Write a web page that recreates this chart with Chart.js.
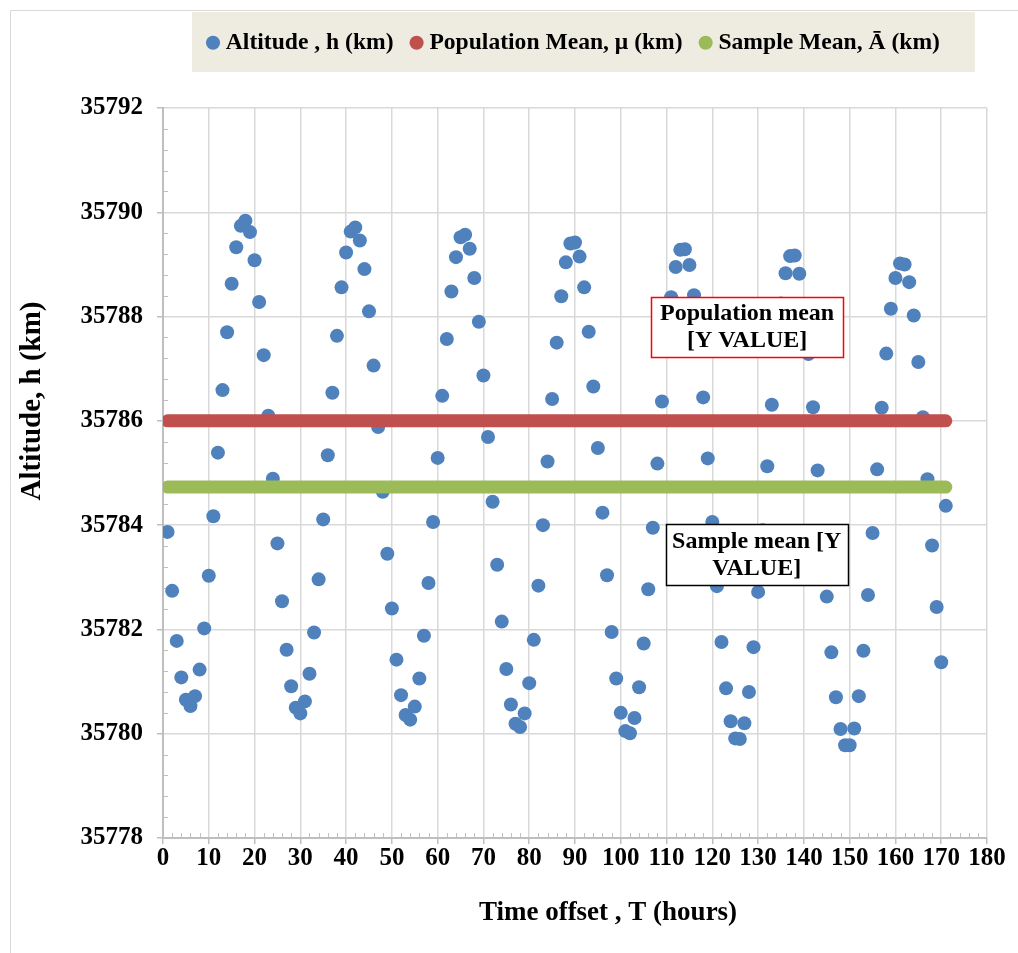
<!DOCTYPE html>
<html>
<head>
<meta charset="utf-8">
<script src="https://cdn.jsdelivr.net/npm/chart.js@4.4.1/dist/chart.umd.min.js"></script>
<style>
  html, body { margin: 0; padding: 0; background: #ffffff; }
  #wrap { position: relative; width: 1018px; height: 953px; overflow: hidden; }
  canvas { display: block; }
</style>
</head>
<body>
<div id="wrap"><canvas id="chart" width="1018" height="953"></canvas></div>
<script>
// Hourly time offsets of the altitude samples (hours)
const hours = [
  1, 2, 3, 4, 5, 6, 7, 8, 9, 10, 11, 12, 13, 14, 15, 16, 17, 18, 19, 20,
  21, 22, 23, 24, 25, 26, 27, 28, 29, 30, 31, 32, 33, 34, 35, 36, 37, 38, 39, 40,
  41, 42, 43, 44, 45, 46, 47, 48, 49, 50, 51, 52, 53, 54, 55, 56, 57, 58, 59, 60,
  61, 62, 63, 64, 65, 66, 67, 68, 69, 70, 71, 72, 73, 74, 75, 76, 77, 78, 79, 80,
  81, 82, 83, 84, 85, 86, 87, 88, 89, 90, 91, 92, 93, 94, 95, 96, 97, 98, 99, 100,
  101, 102, 103, 104, 105, 106, 107, 108, 109, 110, 111, 112, 113, 114, 115, 116, 117, 118, 119, 120,
  121, 122, 123, 124, 125, 126, 127, 128, 129, 130, 131, 132, 133, 134, 135, 136, 137, 138, 139, 140,
  141, 142, 143, 144, 145, 146, 147, 148, 149, 150, 151, 152, 153, 154, 155, 156, 157, 158, 159, 160,
  161, 162, 163, 164, 165, 166, 167, 168, 169, 170, 171
];

// Measured altitude at each offset (km)
const altitude = [
  35783.87, 35782.74, 35781.78, 35781.08, 35780.65, 35780.53, 35780.72, 35781.23, 35782.02, 35783.03,
  35784.17, 35785.39, 35786.59, 35787.70, 35788.63, 35789.33, 35789.74, 35789.84, 35789.62, 35789.08,
  35788.28, 35787.26, 35786.10, 35784.89, 35783.65, 35782.54, 35781.61, 35780.91, 35780.50, 35780.39,
  35780.62, 35781.15, 35781.94, 35782.96, 35784.11, 35785.34, 35786.54, 35787.63, 35788.56, 35789.23,
  35789.63, 35789.71, 35789.46, 35788.91, 35788.10, 35787.06, 35785.88, 35784.64, 35783.45, 35782.40,
  35781.42, 35780.74, 35780.36, 35780.27, 35780.52, 35781.06, 35781.88, 35782.89, 35784.06, 35785.29,
  35786.48, 35787.57, 35788.48, 35789.14, 35789.52, 35789.57, 35789.30, 35788.74, 35787.90, 35786.87,
  35785.69, 35784.45, 35783.24, 35782.15, 35781.24, 35780.56, 35780.19, 35780.13, 35780.39, 35780.97,
  35781.80, 35782.84, 35784.00, 35785.22, 35786.42, 35787.50, 35788.39, 35789.04, 35789.40, 35789.42,
  35789.15, 35788.56, 35787.71, 35786.66, 35785.48, 35784.24, 35783.04, 35781.95, 35781.06, 35780.40,
  35780.05, 35780.01, 35780.30, 35780.89, 35781.73, 35782.77, 35783.95, 35785.18, 35786.37, 35787.48,
  35788.37, 35788.95, 35789.28, 35789.29, 35788.99, 35788.41, 35787.55, 35786.45, 35785.28, 35784.06,
  35782.83, 35781.76, 35780.87, 35780.24, 35779.91, 35779.90, 35780.20, 35780.80, 35781.66, 35782.72,
  35783.90, 35785.13, 35786.31, 35787.40, 35788.25, 35788.83, 35789.16, 35789.17, 35788.82, 35788.22,
  35787.28, 35786.26, 35785.05, 35783.85, 35782.63, 35781.56, 35780.70, 35780.09, 35779.78, 35779.78,
  35780.10, 35780.72, 35781.59, 35782.66, 35783.85, 35785.07, 35786.25, 35787.29, 35788.15, 35788.74,
  35789.02, 35789.00, 35788.66, 35788.02, 35787.13, 35786.07, 35784.88, 35783.61, 35782.43, 35781.37,
  35784.37
];

// Reference levels (km)
const populationMean = 35786;
const sampleMean = 35784.73;

// Axis tick values
const xTicks = [0, 10, 20, 30, 40, 50, 60, 70, 80, 90, 100, 110, 120, 130, 140, 150, 160, 170, 180];
const yTicks = [35778, 35780, 35782, 35784, 35786, 35788, 35790, 35792];

// Text
const seriesNames = ['Altitude , h (km)', 'Population Mean, \u03bc (km)', 'Sample Mean, \u0100 (km)'];
const xTitle = 'Time offset , T (hours)';
const yTitle = 'Altitude, h (km)';
const populationCallout = ['Population mean', '[Y VALUE]'];
const sampleCallout = ['Sample mean [Y', 'VALUE]'];

const FONT = "'Liberation Serif', 'Times New Roman', serif";
const BLUE = '#4f81bd', RED = '#c0504d', GREEN = '#9bbb59';
const GRID = '#d9d9d9', AXIS = '#bfbfbf';
const LEGEND_START = 212;   // x of the first legend item

const altitudePoints = hours.map((h, i) => ({ x: h, y: altitude[i] }));
const firstHour = hours[0], lastHour = hours[hours.length - 1];
const levelLine = v => [{ x: firstHour, y: v }, { x: lastHour, y: v }];

// Layout, legend band, minor ticks, callouts and axis titles
const decor = {
  id: 'decor',
  beforeLayout(chart) {
    const lg = chart.legend;
    if (lg && !lg._bandFit) {
      const fit = lg.fit;
      lg.fit = function () { fit.call(this); this.height = 99; };
      lg._bandFit = true;
    }
  },
  afterLayout(chart) {
    const lg = chart.legend;
    const pad = lg.options.labels.padding;
    const natural = (lg.left + pad + lg.right - lg.lineWidths[0]) / 2;
    const shift = LEGEND_START - natural;
    lg.left += shift; lg.right += shift;
  },
  beforeDraw(chart) {
    const ctx = chart.ctx;
    ctx.save();
    // outer frame
    ctx.strokeStyle = GRID; ctx.lineWidth = 1;
    ctx.beginPath();
    ctx.moveTo(10.5, chart.height); ctx.lineTo(10.5, 10.5); ctx.lineTo(chart.width, 10.5);
    ctx.stroke();
    // legend band
    const hb = chart.legend.legendHitBoxes;
    if (hb && hb.length) {
      const l = Math.min(...hb.map(b => b.left)) - 20;
      const r = Math.max(...hb.map(b => b.left + b.width)) + 35;
      ctx.fillStyle = '#eeece1';
      ctx.fillRect(l, chart.legend.top + 3, r - l, 60);
    }
    ctx.restore();
  },
  beforeDatasetsDraw(chart) {
    const ctx = chart.ctx, xs = chart.scales.x, ys = chart.scales.y, a = chart.chartArea;
    ctx.save();
    ctx.strokeStyle = AXIS; ctx.lineWidth = 1;
    ctx.beginPath();
    for (let i = 0; i < yTicks.length - 1; i++) {
      const step = (yTicks[i + 1] - yTicks[i]) / 5;
      for (let k = 1; k < 5; k++) {
        const py = Math.round(ys.getPixelForValue(yTicks[i] + k * step)) + 0.5;
        ctx.moveTo(a.left, py); ctx.lineTo(a.left + 5, py);
      }
    }
    for (let i = 0; i < xTicks.length - 1; i++) {
      const step = (xTicks[i + 1] - xTicks[i]) / 5;
      for (let k = 1; k < 5; k++) {
        const px = Math.round(xs.getPixelForValue(xTicks[i] + k * step)) + 0.5;
        ctx.moveTo(px, a.bottom); ctx.lineTo(px, a.bottom - 5);
      }
    }
    ctx.stroke();
    ctx.restore();
  },
  afterDatasetsDraw(chart) {
    const ctx = chart.ctx, xs = chart.scales.x, ys = chart.scales.y;
    const boxes = [
      { lines: populationCallout, at: [127.6, 35787.8], w: 192, h: 60, border: '#ff0000' },
      { lines: sampleCallout, at: [129.7, 35783.44], w: 182, h: 61, border: '#000000' }
    ];
    ctx.save();
    for (const b of boxes) {
      const cx = xs.getPixelForValue(b.at[0]), cy = ys.getPixelForValue(b.at[1]);
      const l = Math.round(cx - b.w / 2) + 0.5, t = Math.round(cy - b.h / 2) + 0.5;
      ctx.fillStyle = '#ffffff';
      ctx.fillRect(l, t, b.w, b.h);
      ctx.strokeStyle = b.border; ctx.lineWidth = 1.5;
      ctx.strokeRect(l, t, b.w, b.h);
      ctx.fillStyle = '#000000';
      ctx.font = 'bold 24px ' + FONT;
      ctx.textAlign = 'center'; ctx.textBaseline = 'middle';
      ctx.fillText(b.lines[0], cx, cy - 13);
      ctx.fillText(b.lines[1], cx, cy + 14);
    }
    ctx.restore();
  },
  afterDraw(chart) {
    const ctx = chart.ctx;
    ctx.save();
    ctx.fillStyle = '#000000';
    ctx.textAlign = 'center'; ctx.textBaseline = 'middle';
    ctx.font = 'bold 27px ' + FONT;
    ctx.fillText(xTitle, 608, 913);
    ctx.translate(33, 401);
    ctx.rotate(-Math.PI / 2);
    ctx.font = 'bold 29px ' + FONT;
    ctx.fillText(yTitle, 0, 0);
    ctx.restore();
  }
};

new Chart(document.getElementById('chart'), {
  type: 'scatter',
  data: {
    datasets: [
      {
        label: seriesNames[0],
        data: altitudePoints,
        backgroundColor: BLUE, borderColor: BLUE,
        pointBackgroundColor: BLUE, pointBorderColor: BLUE,
        pointRadius: 7, pointBorderWidth: 0, pointHoverRadius: 7,
        pointStyle: 'circle',
        order: 3
      },
      {
        label: seriesNames[1],
        data: levelLine(populationMean),
        showLine: true,
        borderColor: RED, backgroundColor: RED,
        pointBackgroundColor: RED, pointBorderColor: RED,
        borderWidth: 13, borderCapStyle: 'round',
        pointRadius: 0, pointHoverRadius: 0, pointStyle: 'circle',
        order: 2
      },
      {
        label: seriesNames[2],
        data: levelLine(sampleMean),
        showLine: true,
        borderColor: GREEN, backgroundColor: GREEN,
        pointBackgroundColor: GREEN, pointBorderColor: GREEN,
        borderWidth: 13, borderCapStyle: 'round',
        pointRadius: 0, pointHoverRadius: 0, pointStyle: 'circle',
        order: 1
      }
    ]
  },
  options: {
    responsive: false,
    animation: false,
    devicePixelRatio: 1,
    layout: { padding: { top: 9, left: 10, right: 31, bottom: 0 } },
    plugins: {
      tooltip: { enabled: false },
      legend: {
        position: 'top',
        labels: {
          usePointStyle: true,
          boxHeight: 10,
          boxWidth: 2,
          padding: 22,
          color: '#000000',
          font: { family: FONT, size: 23.6, weight: 'bold' },
          sort: (a, b) => a.datasetIndex - b.datasetIndex,
          generateLabels(chart) {
            const items = Chart.defaults.plugins.legend.labels.generateLabels(chart);
            items.forEach(it => { it.lineWidth = 0; it.strokeStyle = it.fillStyle; });
            return items;
          }
        }
      }
    },
    scales: {
      x: {
        type: 'linear', min: 0, max: 180,
        afterBuildTicks(s) { s.ticks = xTicks.map(v => ({ value: v })); },
        afterFit(s) { s.height = 115; s.paddingLeft = 0; s.paddingRight = 0; },
        ticks: {
          autoSkip: false, maxRotation: 0, padding: 0,
          color: '#000000',
          font: { family: FONT, size: 25, weight: 'bold' },
          callback: v => String(v)
        },
        grid: { color: GRID, lineWidth: 1.5, tickLength: 6, tickColor: AXIS },
        border: { color: AXIS, width: 2 }
      },
      y: {
        type: 'linear', min: 35778, max: 35792,
        afterBuildTicks(s) { s.ticks = yTicks.map(v => ({ value: v })); },
        afterFit(s) { s.width = 153; s.paddingTop = 0; s.paddingBottom = 0; },
        ticks: {
          padding: 14,
          color: '#000000',
          font: { family: FONT, size: 25, weight: 'bold' },
          callback: v => String(v)
        },
        grid: { color: GRID, lineWidth: 1.5, tickLength: 6, tickColor: AXIS },
        border: { color: AXIS, width: 2 }
      }
    }
  },
  plugins: [decor]
});
</script>
</body>
</html>
